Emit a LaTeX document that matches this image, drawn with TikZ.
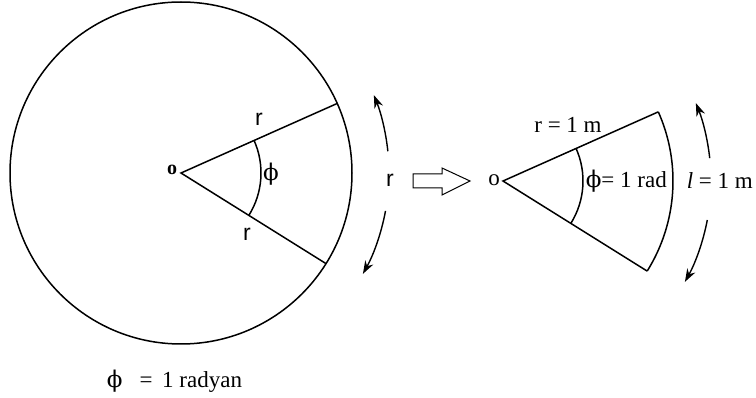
\documentclass[tikz,border=0pt]{standalone}
\usepackage{fontspec}
\setmainfont{Liberation Serif}
\newfontfamily\sansf{Liberation Sans}
\newfontfamily\phif{DejaVu Serif}
\newcommand{\myphi}{{\phif ϕ}}
\usetikzlibrary{arrows.meta}
\begin{document}
\begin{tikzpicture}[x=1pt,y=-1pt, line width=1.5pt,
  lbl/.style={font=\fontsize{23}{26}\selectfont, inner sep=0pt},
  slbl/.style={font=\sansf\fontsize{23}{26}\selectfont, inner sep=0pt},
  curv/.style={-{Stealth[length=13pt,width=9pt]}, line width=1.4pt}]
\useasboundingbox (0,0) rectangle (756,398);
% left figure
\coordinate (O) at (181,173);
\coordinate (A) at ([shift={(-24:171)}]O);
\coordinate (B) at ([shift={(32:171)}]O);
\draw (O) circle[radius=171];
\draw (A) -- (O) -- (B);
\draw ([shift={(-24:80)}]O) arc[start angle=-24,end angle=32,radius=80];
\draw[curv] ([shift={(-6:208)}]O) arc[start angle=-6,end angle=-22,radius=208];
\draw[curv] ([shift={(10.5:208)}]O) arc[start angle=10.5,end angle=29,radius=208];
\node[lbl, font=\bfseries\fontsize{20}{22}\selectfont] (lo) at (172,170) {o};
\node[slbl] (lr1) at (259,119) {r};
\node[slbl] (lr2) at (247,234) {r};
\node[lbl] (lphi) at (271,174) {\myphi};
\node[slbl] (lr3) at (390,180) {r};
\node[lbl, anchor=west] (cap) at (106,381) {\myphi\,\,\, = \,1 radyan};
% hollow arrow
\draw[line width=1pt] (413,174) -- (442,174) -- (442,168) -- (470,181) -- (442,195) -- (442,188) -- (413,188) -- cycle;
% right figure
\coordinate (P) at (503,181);
\coordinate (C) at ([shift={(-24:170)}]P);
\coordinate (D) at ([shift={(32:170)}]P);
\draw (C) -- (P) -- (D);
\draw (C) arc[start angle=-24,end angle=32,radius=170];
\draw ([shift={(-24:80)}]P) arc[start angle=-24,end angle=32,radius=80];
\draw[curv] ([shift={(-6.3:208)}]P) arc[start angle=-6.3,end angle=-22,radius=208];
\draw[curv] ([shift={(10.8:208)}]P) arc[start angle=10.8,end angle=29,radius=208];
\node[lbl] (ro) at (494,180) {o};
\node[lbl] (rr) at (568,125) {r = 1 m};
\node[lbl, anchor=west] (rphi) at (585,181) {\myphi= 1 rad};
\node[lbl, anchor=west] (rl) at (686,181) {\textit{l} = 1 m};
\end{tikzpicture}
\end{document}
